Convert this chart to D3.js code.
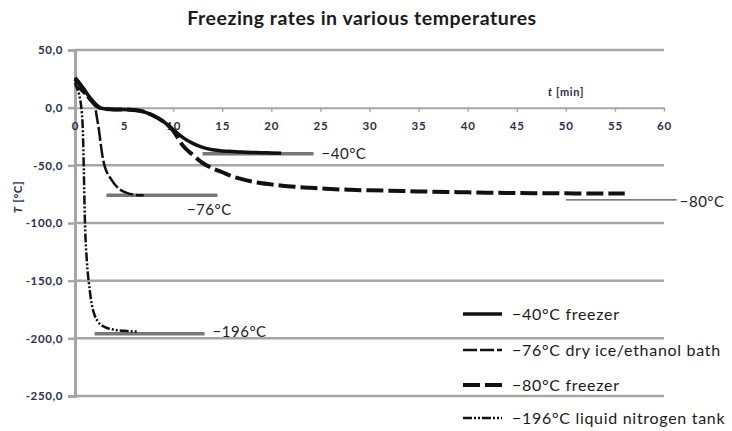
<!DOCTYPE html>
<html>
<head>
<meta charset="utf-8">
<script src="https://cdn.jsdelivr.net/npm/d3@7"></script>
<style>
  html, body { margin: 0; padding: 0; background: #fff; }
  svg { display: block; font-family: Lato, "Open Sans", sans-serif; }
</style>
</head>
<body>
<svg id="chart" width="732" height="431"></svg>
<script>
// Cooling curves: time in minutes, temperature in °C
const seriesNames = ["−40°C freezer", "−76°C dry ice/ethanol bath", "−80°C freezer", "−196°C liquid nitrogen tank"];

const freezer40Time = [0, 0.5, 1, 1.5, 2, 2.5, 3, 4, 5, 6, 7, 8, 9, 10, 11, 12, 13, 14, 15, 16, 17, 18, 19, 20, 21];
const freezer40Temp = [26, 21, 15, 9, 4, 0, -1, -1.5, -1.5, -2, -3.5, -7, -12, -19, -26, -31, -34.5, -36.5, -37.5, -38, -38.5, -38.8, -39, -39.3, -39.5];

const dryIceTime = [0, 0.5, 1, 1.5, 2, 2.2, 2.4, 2.6, 2.8, 3, 3.3, 3.6, 4, 4.5, 5, 5.5, 6, 6.5, 7];
const dryIceTemp = [20, 16, 12, 7, 3, -7, -17, -30, -42, -50, -57, -61, -66, -70.5, -73, -74.5, -75.5, -76, -76];

const freezer80Time = [0, 0.5, 1, 1.5, 2, 2.5, 3, 4, 5, 6, 7, 8, 9, 10, 11, 12, 13, 14, 15, 16, 17, 18, 20, 22, 24, 26, 28, 30, 32, 35, 38, 40, 43, 45, 48, 50, 53, 56];
const freezer80Temp = [25, 20, 14, 8, 3, 0, -1, -1.5, -1.5, -2, -3.5, -7, -12, -20, -33, -41, -48, -52.5, -56, -59.5, -62, -64, -66.5, -68.3, -69.5, -70.5, -71.2, -71.7, -72, -72.6, -73.1, -73.4, -73.8, -74, -74.2, -74.3, -74.5, -74.5];

const nitrogenTime = [0, 0.2, 0.4, 0.6, 0.7, 0.8, 0.9, 1.0, 1.1, 1.2, 1.3, 1.4, 1.5, 1.6, 1.8, 2.0, 2.3, 2.6, 3, 3.5, 4, 5, 6, 6.3];
const nitrogenTemp = [22, 17, 12, 3, -5, -20, -55, -95, -118, -132, -143, -151, -158, -165, -174, -180, -185, -188, -190, -191.7, -192.5, -193.5, -194, -194];

// Target temperature markers: value, start and end time
const targetTemps = [-40, -76, -80, -196];
const targetLabels = ["−40°C", "−76°C", "−80°C", "−196°C"];
const targetStart = [13, 3.2, 50, 2];
const targetEnd = [24.3, 14.5, 61.3, 13.2];

const xTicks = [0, 5, 10, 15, 20, 25, 30, 35, 40, 45, 50, 55, 60];
const yTicks = [50, 0, -50, -100, -150, -200, -250];

const svg = d3.select("#chart");
const x = d3.scaleLinear().domain([0, 60]).range([75, 664]);
const y = d3.scaleLinear().domain([50, -250]).range([50, 396]);

const gridColor = "#a6a6a6";
const axisText = "#283048";
const locale = d3.formatLocale({decimal: ",", thousands: ".", grouping: [3], currency: ["", ""], minus: "-"});
const fmt = locale.format(".1f");

// Title
svg.append("text")
  .attr("x", 362).attr("y", 25)
  .attr("text-anchor", "middle")
  .attr("font-size", 19.5).attr("font-weight", "bold").attr("fill", "#1a1a1a")
  .attr("letter-spacing", 0.5)
  .text("Freezing rates in various temperatures");

// Horizontal gridlines (zero line is drawn as the time axis)
svg.append("g").selectAll("line")
  .data(yTicks.filter(d => d !== 0))
  .join("line")
  .attr("x1", x(0)).attr("x2", x(60))
  .attr("y1", d => y(d)).attr("y2", d => y(d))
  .attr("stroke", gridColor).attr("stroke-width", 2.5);

// Temperature axis
const yAxis = svg.append("g")
  .attr("transform", `translate(${x(0)},0)`)
  .call(d3.axisLeft(y).tickValues(yTicks).tickFormat(fmt).tickSize(7).tickPadding(5));
yAxis.select(".domain").attr("stroke", gridColor).attr("stroke-width", 3);
yAxis.selectAll(".tick line").attr("stroke", gridColor).attr("stroke-width", 2.5);
yAxis.selectAll(".tick text")
  .attr("font-family", "Lato, sans-serif").attr("font-size", 11.5).attr("font-weight", "bold")
  .attr("letter-spacing", 0.6).attr("fill", axisText);

// Time axis along 0 °C
const xAxis = svg.append("g")
  .attr("transform", `translate(0,${y(0)})`)
  .call(d3.axisBottom(x).tickValues(xTicks).tickFormat(d => d).tickSize(4).tickPadding(10).tickSizeOuter(0));
xAxis.select(".domain").attr("stroke", gridColor).attr("stroke-width", 2);
xAxis.selectAll(".tick line").attr("stroke", gridColor).attr("stroke-width", 1.5);
xAxis.selectAll(".tick text")
  .attr("font-family", "Lato, sans-serif").attr("font-size", 11.5).attr("font-weight", "bold")
  .attr("letter-spacing", 0.8).attr("fill", axisText);

// Axis titles
svg.append("text")
  .attr("transform", "translate(22,197) rotate(-90)")
  .attr("text-anchor", "middle")
  .attr("font-size", 11.5).attr("font-weight", "bold").attr("letter-spacing", 0.6).attr("fill", axisText)
  .html('<tspan font-style="italic">T</tspan> [°C]');
svg.append("text")
  .attr("x", 566).attr("y", 96)
  .attr("text-anchor", "middle")
  .attr("font-size", 11).attr("font-weight", "bold").attr("letter-spacing", 0.7).attr("fill", axisText)
  .html('<tspan font-style="italic">t</tspan> [min]');

// Target temperature markers
const targets = targetTemps.map((v, i) => ({v, label: targetLabels[i], t0: targetStart[i], t1: targetEnd[i]}));
svg.append("g").selectAll("line")
  .data(targets)
  .join("line")
  .attr("x1", d => x(d.t0)).attr("x2", d => x(d.t1))
  .attr("y1", d => y(d.v)).attr("y2", d => y(d.v))
  .attr("stroke", (d, i) => i === 2 ? "#555" : "#777")
  .attr("stroke-width", (d, i) => i === 2 ? 1.3 : 3.5);

const labelPos = [
  {dx: 8, dy: 0, anchor: "start"},
  {dx: -8, dy: 14, anchor: "middle"},
  {dx: 3, dy: 2, anchor: "start"},
  {dx: 8, dy: -2, anchor: "start"}
];
svg.append("g").selectAll("text")
  .data(targets)
  .join("text")
  .attr("x", (d, i) => x(d.t1) + labelPos[i].dx)
  .attr("y", (d, i) => y(d.v) + labelPos[i].dy)
  .attr("dy", "0.35em")
  .attr("text-anchor", (d, i) => labelPos[i].anchor)
  .attr("font-size", 15).attr("letter-spacing", 0.5).attr("fill", "#222")
  .text(d => d.label);

// Cooling curves
const styles = [
  {dash: null, width: 3.5},
  {dash: "14,3", width: 2.5},
  {dash: "17,5", width: 4},
  {dash: "9,2,2,2,2,2", width: 2.5}
];
const curves = [
  {times: freezer40Time, temps: freezer40Temp},
  {times: dryIceTime, temps: dryIceTemp},
  {times: freezer80Time, temps: freezer80Temp},
  {times: nitrogenTime, temps: nitrogenTemp}
].map((c, i) => ({name: seriesNames[i], style: styles[i], pts: c.times.map((t, j) => [t, c.temps[j]])}));

const line = d3.line().x(d => x(d[0])).y(d => y(d[1])).curve(d3.curveMonotoneX);
svg.append("g").selectAll("path")
  .data(curves.slice().reverse())
  .join("path")
  .attr("d", d => line(d.pts))
  .attr("fill", "none")
  .attr("stroke", "#111")
  .attr("stroke-width", d => d.style.width)
  .attr("stroke-dasharray", d => d.style.dash)
  .attr("stroke-linejoin", "round");

// Legend
const legendY = [314, 350, 385, 418];
const legend = svg.append("g").selectAll("g")
  .data(curves)
  .join("g")
  .attr("transform", (d, i) => `translate(463,${legendY[i]})`);
legend.append("line")
  .attr("x1", 0).attr("x2", 39).attr("y1", 0).attr("y2", 0)
  .attr("stroke", "#111")
  .attr("stroke-width", d => d.style.width)
  .attr("stroke-dasharray", d => d.style.dash);
legend.append("text")
  .attr("x", 49).attr("y", 0).attr("dy", "0.35em")
  .attr("font-size", 16).attr("letter-spacing", 0.7).attr("fill", "#1a1a1a")
  .text(d => d.name);
</script>
</body>
</html>
